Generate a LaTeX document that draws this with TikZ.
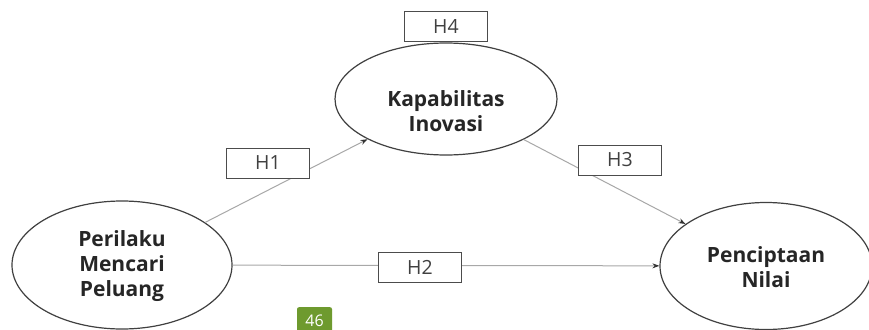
\documentclass[tikz,border=0pt]{standalone}
\usepackage{fontspec}
\setmainfont{Open Sans}
\usetikzlibrary{shapes.geometric,arrows.meta}
\definecolor{edgegray}{HTML}{A8A8A8}
\definecolor{ovalgray}{HTML}{404040}
\definecolor{pagegreen}{HTML}{6E9A2E}
\begin{document}
\begin{tikzpicture}[x=1pt,y=-1pt,
  construct/.style={ellipse,draw=ovalgray,line width=1.2pt,fill=white,inner sep=0pt},
  ctext/.style={font=\fontsize{21}{25}\selectfont\bfseries,align=center,text=black!85,inner sep=0pt},
  hbox/.style={draw=black!70,line width=1pt,fill=white,minimum width=83pt,minimum height=30pt,
    inner sep=0pt,font=\fontsize{19.5}{20}\selectfont,text=black!75},
  link/.style={draw=edgegray,line width=1pt,-{Stealth[length=7pt,width=5pt,black!80]}}]
\useasboundingbox (0,0) rectangle (869,329);
\fill[white] (0,0) rectangle (869,329);
\node[construct,minimum width=220pt,minimum height=128pt] (pmp) at (122,265) {};
\node[ctext] (pmpt) at (122,266) {Perilaku\\Mencari\\Peluang};
\node[construct,minimum width=222pt,minimum height=112pt] (ki) at (446,99) {};
\node[ctext] (kit) at (446,111) {Kapabilitas\\Inovasi};
\node[construct,minimum width=212pt,minimum height=127pt] (pn) at (766,266) {};
\node[ctext] (pnt) at (766,267) {Penciptaan\\Nilai};
\draw[link] (pmp) -- (ki);
\draw[link] (ki) -- (pn);
\draw[link] (pmp) -- (pn);
\node[hbox] (h1) at (268,163) {H1};
\node[hbox] (h2) at (420,267) {H2};
\node[hbox] (h3) at (620,160) {H3};
\node[hbox] (h4) at (446,27) {H4};
\node[fill=pagegreen,text=white,rounded corners=2pt,minimum width=35pt,minimum height=28pt,inner sep=0pt,
  font=\fontsize{16}{16}\selectfont,anchor=north] (pg) at (314.5,307) {46};
\end{tikzpicture}
\end{document}
